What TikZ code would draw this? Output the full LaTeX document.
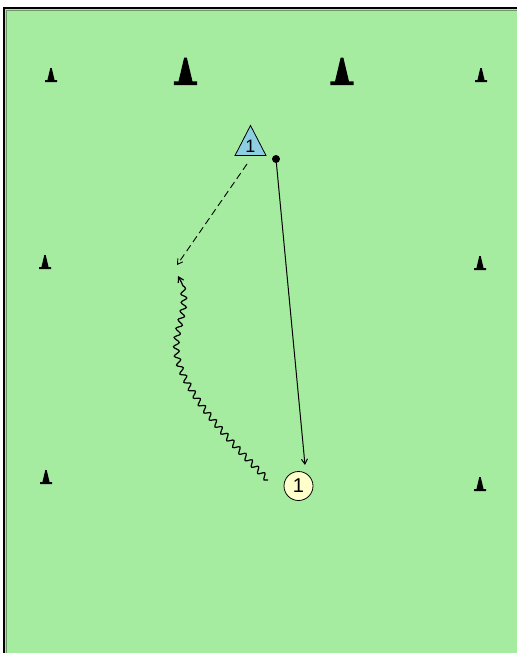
\documentclass[tikz,border=0pt]{standalone}
\usepackage{fontspec}
\setmainfont{Liberation Sans}
\usetikzlibrary{shapes.geometric,decorations.pathmorphing,arrows.meta}
\definecolor{field}{RGB}{165,236,160}
\definecolor{fieldedge}{RGB}{110,150,105}
\definecolor{plblue}{RGB}{140,206,226}
\definecolor{plyellow}{RGB}{255,255,204}
\tikzset{
  cone/.pic={\fill[black] (-6,0) -- (6,0) -- (6,-1.8) -- (3.6,-1.8) -- (0.7,-14) -- (-0.7,-14) -- (-3.6,-1.8) -- (-6,-1.8) -- cycle;},
  attacker/.style={draw=black, line width=0.8pt, fill=plblue, line join=miter},
  attackerlabel/.style={font=\fontsize{18}{18}\selectfont, inner sep=0pt},
  defender/.style={circle, minimum size=29pt, inner sep=0pt, draw=black, line width=0.8pt, fill=plyellow, font=\fontsize{20}{20}\selectfont},
  ballstyle/.style={circle, fill=black, minimum size=8pt, inner sep=0pt},
  tip/.style={-{Straight Barb[length=5pt,width=6pt]}},
  pass/.style={tip, line width=1pt},
  run/.style={tip, line width=0.9pt, dash pattern=on 7pt off 4pt},
  dribble/.style={tip, line width=1.2pt, decorate, decoration={snake, amplitude=2.8pt, segment length=9pt, post length=7pt}}
}
\begin{document}
\begin{tikzpicture}[x=1pt,y=-1pt]
\useasboundingbox (0,0) rectangle (517,653);
\fill[field] (4,8) rectangle (517,653);
\draw[fieldedge, line width=0.6pt] (6.5,653) -- (6.5,10.5) -- (517,10.5);
\draw[black, line width=2pt] (4,653) -- (4,8) -- (517,8);
% cones
\pic at (51,82) {cone};
\pic at (481,82) {cone};
\pic at (45,269) {cone};
\pic at (480,270) {cone};
\pic at (46,484) {cone};
\pic at (480,491) {cone};
\pic[scale=1.95] at (185.5,85) {cone};
\pic[scale=1.95] at (342,85) {cone};
% players and ball
\filldraw[attacker] (235,155.5) -- (250.5,125.5) -- (266,155.5) -- cycle;
\node[attackerlabel] (p1) at (250.5,146.5) {1};
\node[ballstyle] (ball) at (276,159) {};
\node[defender] (c1) at (298.5,486) {1};
% connectors
\coordinate (passend) at (305,465);
\coordinate (runstart) at (247,164);
\coordinate (runend) at (177,265);
\coordinate (dribstart) at (268,480);
\coordinate (dribmid) at (178,352);
\coordinate (dribend) at (178,276);
\draw[pass] (ball) -- (passend);
\draw[run] (runstart) -- (runend);
\draw[dribble] (dribstart) .. controls (220,432) and (180,385) .. (dribmid) .. controls (176,325) and (196,305) .. (dribend);
\end{tikzpicture}
\end{document}
